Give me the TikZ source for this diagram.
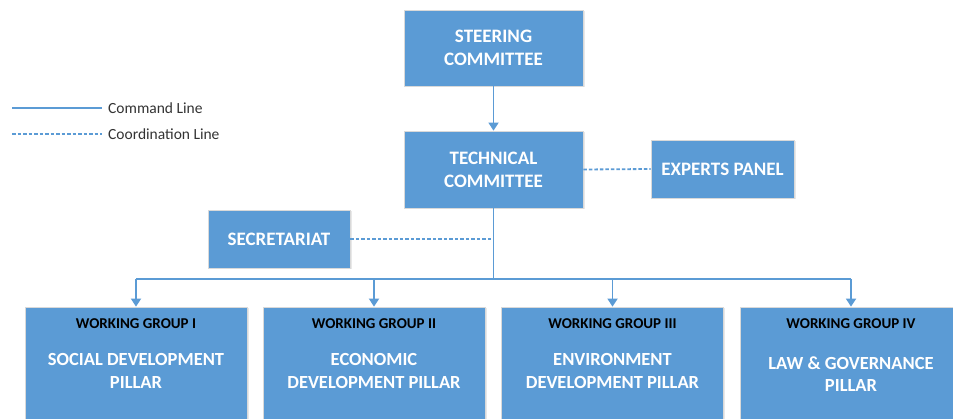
\documentclass[tikz,border=0pt]{standalone}
\usepackage{fontspec}
\setmainfont{Carlito}
\usetikzlibrary{arrows.meta,shadows}
\definecolor{boxblue}{HTML}{5B9BD5}
\definecolor{legtext}{HTML}{333333}
\begin{document}
\begin{tikzpicture}[x=1pt,y=-1pt,
  box/.style={rectangle, fill=boxblue, draw=black!15, line width=0.8pt, inner sep=0pt,
    text=white, font=\bfseries\fontsize{19}{23}\selectfont, align=center,
    drop shadow={opacity=0.18,shadow xshift=1.5pt,shadow yshift=-1.5pt}},
  wgtitle/.style={font=\bfseries\fontsize{15}{17}\selectfont, text=black, inner sep=0pt},
  wgbody/.style={font=\bfseries\fontsize{18.5}{22.5}\selectfont, text=white, align=center, inner sep=0pt},
  legend/.style={font=\fontsize{15.5}{17}\selectfont, text=legtext, anchor=west, inner sep=0pt},
  cmd/.style={draw=boxblue, line width=1.8pt},
  coordline/.style={draw=boxblue, line width=1.8pt, dash pattern=on 3.5pt off 2pt},
  arr/.style={cmd, -{Triangle[width=10pt,length=8pt]}}]
\useasboundingbox (0,0) rectangle (953,419);
\fill[white] (0,0) rectangle (953,419);

% legend
\coordinate (la1) at (12,108);
\coordinate (lb1) at (102,108);
\coordinate (la2) at (12,134);
\coordinate (lb2) at (102,134);
\draw[cmd] (la1) -- (lb1);
\draw[coordline] (la2) -- (lb2);
\node[legend] (legcmd) at (108,108) {Command Line};
\node[legend] (legcoord) at (108,134) {Coordination Line};

% top boxes
\node[box, minimum width=179pt, minimum height=76pt] (steer) at (493.5,48) {STEERING\\COMMITTEE};
\node[box, minimum width=179pt, minimum height=77pt] (tech) at (493.5,169.5) {TECHNICAL\\COMMITTEE};
\node[box, minimum width=143pt, minimum height=58pt] (exp) at (722.5,169) {EXPERTS PANEL};
\node[box, minimum width=142pt, minimum height=58pt] (sec) at (279,239) {SECRETARIAT};

% working groups
\node[box, minimum width=222pt, minimum height=130pt] (wg1) at (136,372) {};
\node[box, minimum width=222pt, minimum height=130pt] (wg2) at (374,372) {};
\node[box, minimum width=222pt, minimum height=130pt] (wg3) at (612.5,372) {};
\node[box, minimum width=222pt, minimum height=130pt] (wg4) at (851,372) {};

\node[wgtitle] (wg1t) at (136,324) {WORKING GROUP I};
\node[wgtitle] (wg2t) at (374,324) {WORKING GROUP II};
\node[wgtitle] (wg3t) at (612.5,324) {WORKING GROUP III};
\node[wgtitle] (wg4t) at (851,324) {WORKING GROUP IV};

\node[wgbody] (wg1b) at (136,371) {SOCIAL DEVELOPMENT\\PILLAR};
\node[wgbody] (wg2b) at (374,371) {ECONOMIC\\DEVELOPMENT PILLAR};
\node[wgbody] (wg3b) at (612.5,371) {ENVIRONMENT\\DEVELOPMENT PILLAR};
\node[wgbody] (wg4b) at (851,374) {LAW \& GOVERNANCE\\PILLAR};

% connectors
\draw[arr] (steer.south) -- (tech.north);
\coordinate (b1) at (136,279);
\coordinate (b2) at (374,279);
\coordinate (b3) at (612.5,279);
\coordinate (b4) at (851,279);
\coordinate (trunk) at (493.5,279);
\draw[cmd] (tech.south) -- (trunk);
\draw[cmd] (b1) -- (b4);
\draw[arr] (b1) -- (wg1.north);
\draw[arr] (b2) -- (wg2.north);
\draw[arr] (b3) -- (wg3.north);
\draw[arr] (b4) -- (wg4.north);
\draw[coordline] (sec.east) -- (sec.east -| trunk);
\draw[coordline] (tech.east) -- (exp.west);
\end{tikzpicture}
\end{document}
